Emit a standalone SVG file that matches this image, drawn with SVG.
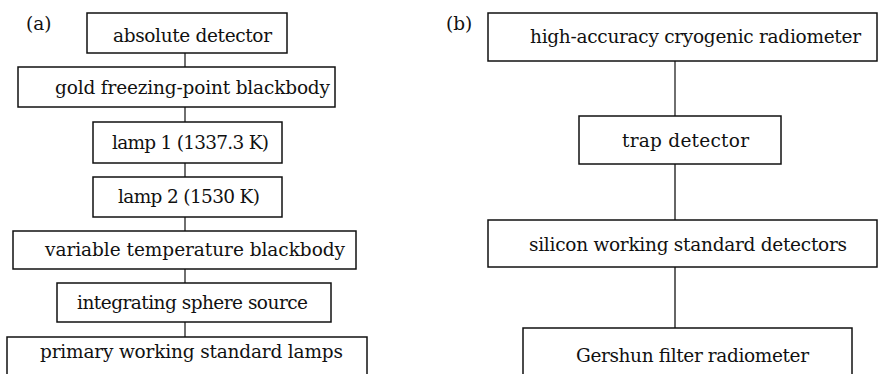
<svg xmlns="http://www.w3.org/2000/svg" width="880" height="374" viewBox="0 0 880 374">
<style>
.box{fill:#fff;stroke:#111;stroke-width:1.5}
.t{font-family:"DejaVu Serif","Liberation Serif",serif;font-size:18.5px;fill:#111}
.c{stroke:#333;stroke-width:1.4;fill:none}
.c2{stroke:#666;stroke-width:2;fill:none}
</style>
<rect width="880" height="374" fill="#fff"/>
<text class="t" x="26" y="30">(a)</text>
<text class="t" x="446" y="30">(b)</text>
<g id="connectors">
<line class="c" x1="185" y1="53" x2="185" y2="67"/>
<line class="c" x1="185" y1="107" x2="185" y2="122"/>
<line class="c" x1="185" y1="163" x2="185" y2="177"/>
<line class="c" x1="185" y1="217" x2="185" y2="231"/>
<line class="c" x1="185" y1="269" x2="185" y2="283"/>
<line class="c" x1="185" y1="322" x2="185" y2="337"/>
<line class="c" x1="675" y1="61" x2="675" y2="116"/>
<line class="c2" x1="675" y1="164" x2="675" y2="220"/>
<line class="c2" x1="675" y1="267" x2="675" y2="328"/>
</g>
<g id="n_absolute"><rect class="box" x="87" y="13" width="200" height="40"/><text class="t" x="113" y="42" textLength="159">absolute detector</text></g>
<g id="n_gold"><rect class="box" x="18" y="67" width="317" height="40"/><text class="t" x="55" y="94" textLength="275">gold freezing-point blackbody</text></g>
<g id="n_lamp1"><rect class="box" x="93" y="122" width="189" height="41"/><text class="t" x="112" y="149" textLength="157">lamp 1 (1337.3 K)</text></g>
<g id="n_lamp2"><rect class="box" x="93" y="177" width="189" height="40"/><text class="t" x="118" y="203" textLength="142">lamp 2 (1530 K)</text></g>
<g id="n_vtb"><rect class="box" x="13" y="231" width="343" height="38"/><text class="t" x="45" y="256" textLength="300">variable temperature blackbody</text></g>
<g id="n_iss"><rect class="box" x="57" y="283" width="274" height="39"/><text class="t" x="77" y="309" textLength="231">integrating sphere source</text></g>
<g id="n_pwsl"><rect class="box" x="7" y="337" width="360" height="45"/><text class="t" x="40" y="358" textLength="303">primary working standard lamps</text></g>
<g id="n_hacr"><rect class="box" x="488" y="13" width="389" height="48"/><text class="t" x="530" y="43" textLength="331">high-accuracy cryogenic radiometer</text></g>
<g id="n_trap"><rect class="box" x="579" y="116" width="202" height="48"/><text class="t" x="622" y="147" textLength="127">trap detector</text></g>
<g id="n_silicon"><rect class="box" x="488" y="220" width="389" height="47"/><text class="t" x="529" y="251" textLength="318">silicon working standard detectors</text></g>
<g id="n_gershun"><rect class="box" x="523" y="328" width="329" height="54"/><text class="t" x="576" y="362" textLength="233">Gershun filter radiometer</text></g>
</svg>
